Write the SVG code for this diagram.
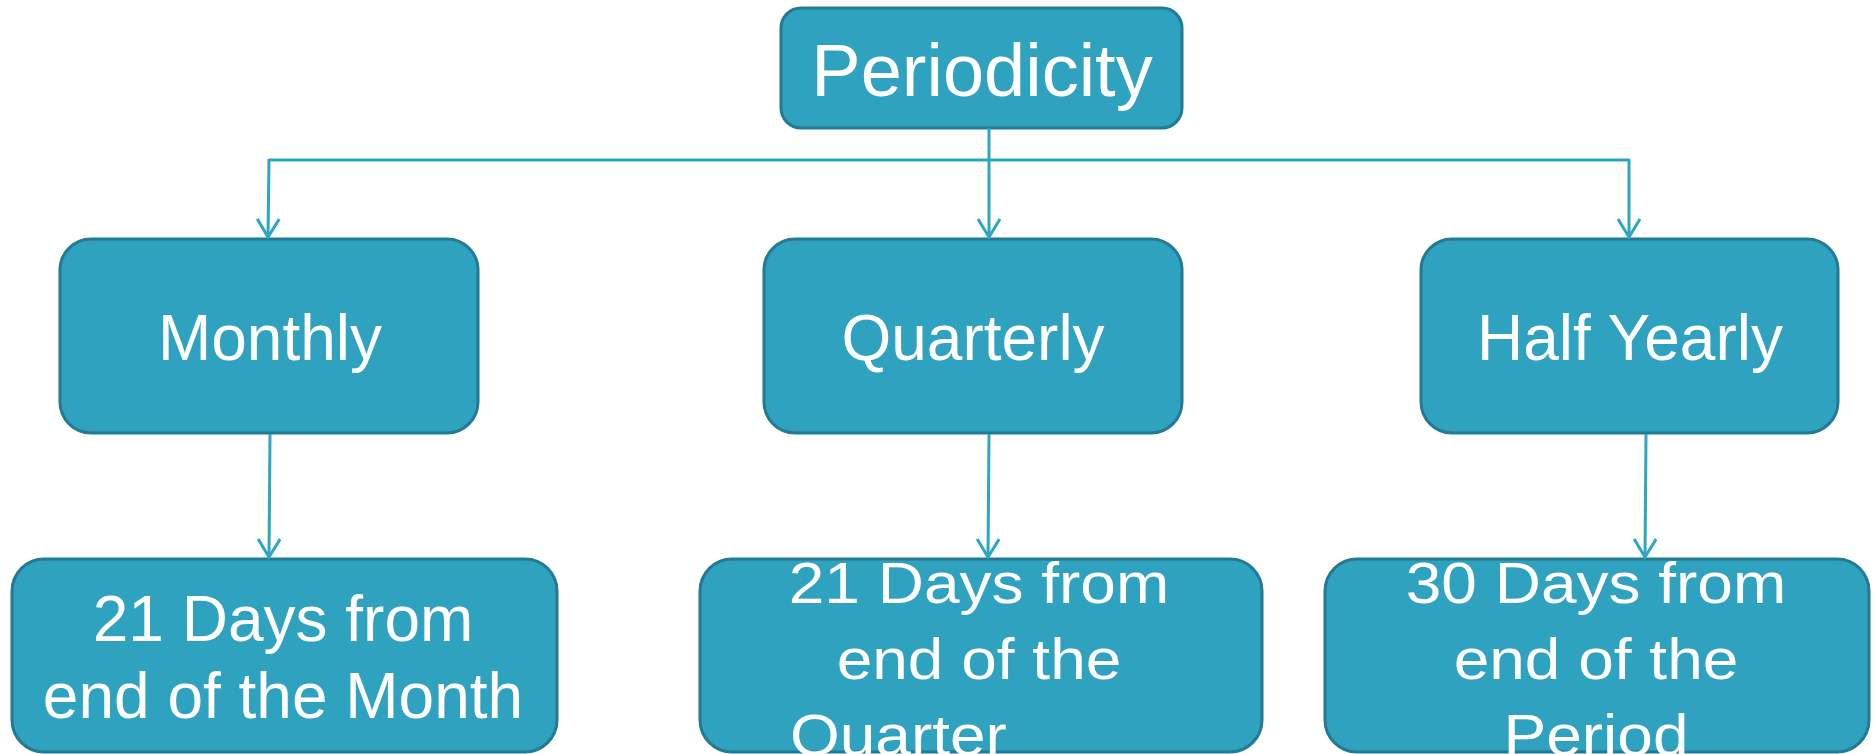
<svg xmlns="http://www.w3.org/2000/svg" width="1875" height="754" viewBox="0 0 1875 754">
<style>
.box{fill:#2EA2BF;stroke:#237A91;stroke-width:3}
.t{fill:#FFFFFF;font-family:"Liberation Sans",Arial,sans-serif;font-size:64px;text-anchor:middle}
.conn{fill:none;stroke:#2EA5C3;stroke-width:3}
</style>
<defs>
<marker id="arr" markerUnits="userSpaceOnUse" markerWidth="40" markerHeight="40" refX="0" refY="0" orient="auto" overflow="visible">
<path d="M-18,-11 L0,0 L-18,11" fill="none" stroke="#2EA5C3" stroke-width="3" stroke-linejoin="miter"/>
</marker>
</defs>
<rect width="1875" height="754" fill="#FFFFFF"/>
<g id="node-periodicity">
<rect class="box" x="781" y="8" width="401" height="120" rx="20" ry="20"/>
<text class="t" x="982" y="96" style="font-size:74px">Periodicity</text>
</g>
<g id="node-monthly">
<rect class="box" x="60" y="239" width="418" height="194" rx="31" ry="31"/>
<text class="t" x="270" y="360">Monthly</text>
</g>
<g id="node-quarterly">
<rect class="box" x="764" y="239" width="418" height="194" rx="31" ry="31"/>
<text class="t" x="973" y="360">Quarterly</text>
</g>
<g id="node-halfyearly">
<rect class="box" x="1421" y="239" width="417" height="194" rx="31" ry="31"/>
<text class="t" x="1630" y="360">Half Yearly</text>
</g>
<g id="node-month-due">
<rect class="box" x="12" y="559" width="545" height="193" rx="32" ry="32"/>
<text class="t" x="283" y="641">21 Days from</text>
<text class="t" x="283" y="718">end of the Month</text>
</g>
<g id="node-quarter-due">
<rect class="box" x="700" y="559" width="562" height="193" rx="32" ry="32"/>
<text class="t" x="979" y="0" transform="translate(0,603) scale(1,0.9)">21 Days from</text>
<text class="t" x="979" y="0" transform="translate(0,679) scale(1,0.9)">end of the</text>
<text class="t" x="790" y="0" transform="translate(0,755) scale(1,0.9)" style="text-anchor:start">Quarter</text>
</g>
<g id="node-period-due">
<rect class="box" x="1325" y="559" width="544" height="193" rx="32" ry="32"/>
<text class="t" x="1596" y="0" transform="translate(0,603) scale(1,0.9)">30 Days from</text>
<text class="t" x="1596" y="0" transform="translate(0,679) scale(1,0.9)">end of the</text>
<text class="t" x="1596" y="0" transform="translate(0,755) scale(1,0.9)">Period</text>
</g>
<g id="connectors">
<line class="conn" x1="269" y1="160" x2="1629" y2="160"/>
<line class="conn" x1="989" y1="128" x2="989" y2="237" marker-end="url(#arr)"/>
<line class="conn" x1="269" y1="159" x2="268" y2="237" marker-end="url(#arr)"/>
<line class="conn" x1="1629" y1="159" x2="1629" y2="237" marker-end="url(#arr)"/>
<line class="conn" x1="270" y1="434" x2="269" y2="557" marker-end="url(#arr)"/>
<line class="conn" x1="989" y1="434" x2="988" y2="557" marker-end="url(#arr)"/>
<line class="conn" x1="1646" y1="434" x2="1645" y2="557" marker-end="url(#arr)"/>
</g>
</svg>
